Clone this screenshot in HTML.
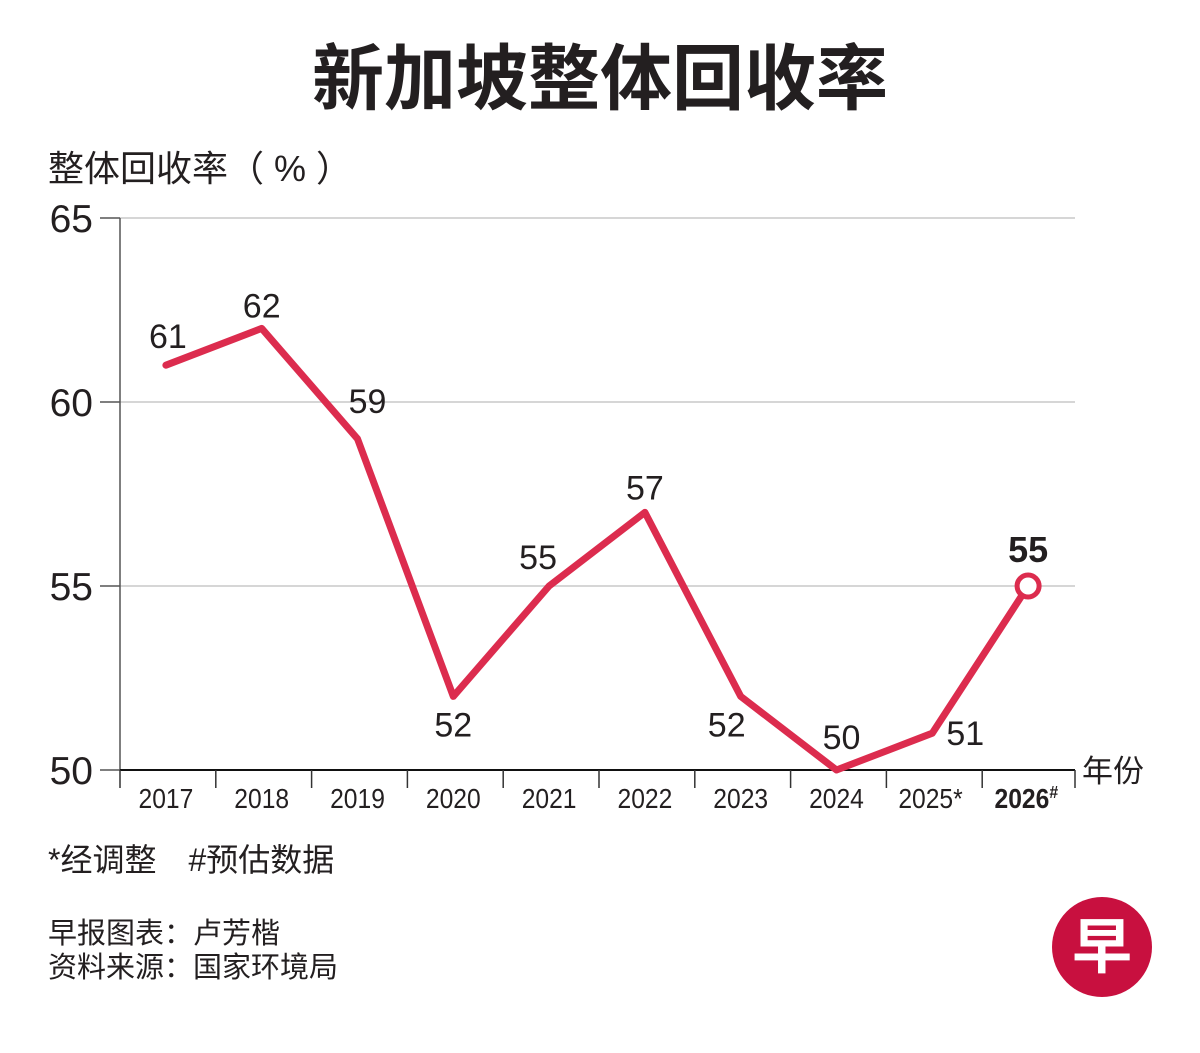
<!DOCTYPE html>
<html><head><meta charset="utf-8"><style>
body{margin:0;background:#fff;width:1200px;height:1048px;overflow:hidden;font-family:"Liberation Sans","Noto Sans CJK SC",sans-serif;}
svg text{font-family:"Liberation Sans","Noto Sans CJK SC",sans-serif;fill:#231f20;}
</style></head><body>
<svg width="1200" height="1048">
<text x="600" y="104" text-anchor="middle" font-size="72" font-weight="bold">新加坡整体回收率</text>
<text x="48" y="181" font-size="36">整体回收率（ % ）</text>
<g id="grid"></g>
<g id="xaxis"></g>
<path id="line" fill="none" stroke="#dc2c4e" stroke-width="7" stroke-linejoin="round" stroke-linecap="round"/>
<g id="labels"></g>
<text x="1082" y="782" font-size="31">年份</text>
<text x="48" y="871" font-size="32">*经调整　#预估数据</text>
<text x="48" y="943" font-size="29">早报图表：卢芳楷</text>
<text x="48" y="977" font-size="29">资料来源：国家环境局</text>
<g>
<circle cx="1102" cy="947" r="50" fill="#c8103f"/>
<text x="1102" y="968" text-anchor="middle" font-size="60" font-weight="bold" style="fill:#fff">早</text>
</g>
</svg>
<script>
const categories=["2017","2018","2019","2020","2021","2022","2023","2024","2025*","2026#"];
const values=[61,62,59,52,55,57,52,50,51,55];
const yTicks=[50,55,60,65];
const labelDx=[2,0,10,0,-11,0,-14,5,33,0];
const labelDy=[-29,-23,-38,28,-29,-25,28,-33,0,-36];
const x0=120,x1=1078,yTop=218,yBot=770;
const band=(x1-x0)/categories.length;
const X=i=>x0+band*(i+0.5)-2;
const Y=v=>yBot-(v-50)/15*(yBot-yTop);
const NS="http://www.w3.org/2000/svg";
function mk(tag,attrs,parent,txt){const e=document.createElementNS(NS,tag);for(const k in attrs)e.setAttribute(k,attrs[k]);if(txt!==undefined)e.textContent=txt;parent.appendChild(e);return e;}
const grid=document.getElementById('grid');
yTicks.forEach(t=>{
  if(t>50){const g=mk('line',{x1:x0,x2:1075,y1:Y(t),y2:Y(t),stroke:'#c8c8c8','stroke-width':1.5},grid);
  
  }
  const tk=mk('line',{x1:100,x2:x0,y1:Y(t),y2:Y(t),stroke:'#555','stroke-width':1.5},grid);
  
  
  const tl=mk('text',{x:93,y:Y(t)+14,'text-anchor':'end','font-size':39},grid,t);
  
  
});
mk('line',{x1:x0,x2:x0,y1:yTop,y2:yBot,stroke:'#555','stroke-width':1.5},grid);
const xa=document.getElementById('xaxis');
const ax=mk('line',{x1:x0,x2:x1-3,y1:yBot,y2:yBot,stroke:'#111','stroke-width':2},xa);


for(let i=0;i<=categories.length;i++){const bx=x0+band*i-(i==categories.length?3:0);mk('line',{x1:bx,x2:bx,y1:yBot,y2:yBot+18,stroke:'#333','stroke-width':1.5},xa);}
categories.forEach((c,i)=>{
  const last=i===categories.length-1;
  const base=c.replace(/[*#]/,''),suf=c.slice(base.length);
  const t=mk('text',{x:X(i)+(suf?-2:0),y:808,'text-anchor':'middle','font-size':28,'font-weight':last?'bold':'normal',transform:`translate(${X(i)},0) scale(0.88,1) translate(${-X(i)},0)`},xa);
  
  
  mk('tspan',{},t,base);
  if(suf)mk('tspan',{dy:suf=='#'?-10:0,'font-size':suf=='#'?18:28},t,suf);
});
document.getElementById('line').setAttribute('d',values.map((v,i)=>(i?'L':'M')+X(i)+','+Y(v)).join(''));
const lg=document.getElementById('labels');
values.forEach((v,i)=>{
  const last=i===values.length-1;
  const t=mk('text',{x:X(i)+labelDx[i],y:Y(v)+labelDy[i]+12,'text-anchor':'middle','font-size':last?36:34,'font-weight':last?'bold':'normal'},lg,v);
  
  
});
const li=values.length-1;
const c=mk('circle',{cx:X(li),cy:Y(values[li]),r:11,fill:'#fff',stroke:'#dc2c4e','stroke-width':5},lg);


</script>
</body></html>
